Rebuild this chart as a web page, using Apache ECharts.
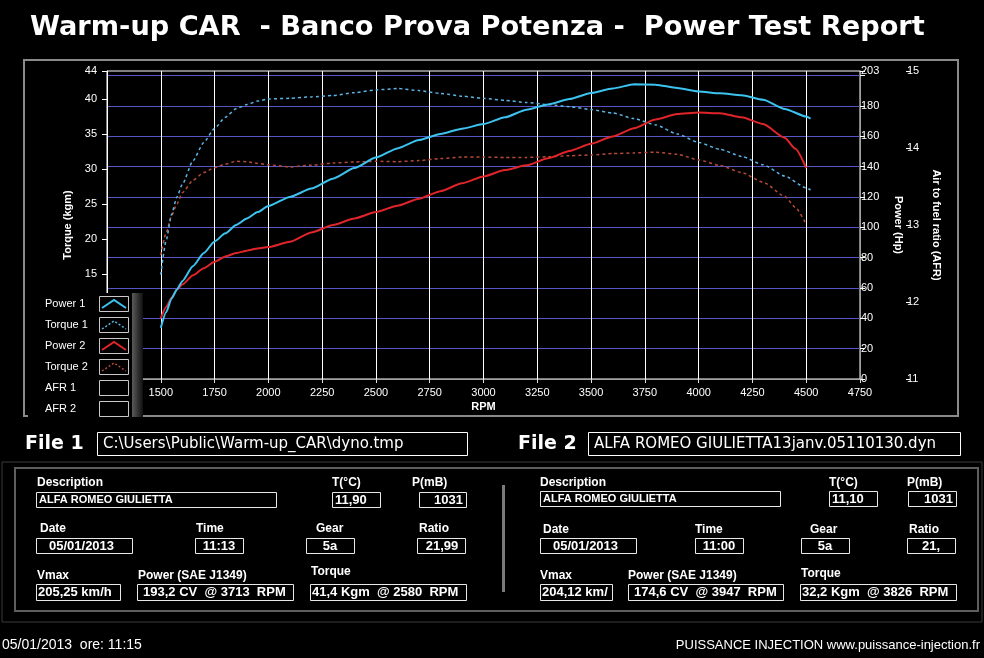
<!DOCTYPE html>
<html><head><meta charset="utf-8">
<script src="https://cdn.jsdelivr.net/npm/echarts@6/dist/echarts.min.js"></script>
<style>html,body{margin:0;padding:0;background:#000;}#c{width:984px;height:658px;}</style>
</head><body><div id="c"></div>
<script>
// ---- Data ----
const rpm1 = [1500,1525,1550,1575,1600,1650,1700,1750,1800,1850,1900,1950,2000,2100,2200,2300,2400,2500,2600,2700,2800,2900,3000,3100,3200,3300,3400,3500,3600,3700,3800,3900,4000,4100,4200,4300,4400,4500,4520];
const power1 = [33.7,44,53,59,64.5,74.5,83,90.7,96,101.5,105.8,110,114,120,125.5,132,139,146,152,157.5,161.5,165,168,172.5,177.5,181,184.5,188.5,191.5,194.2,194,191.8,189.5,188.3,187,184,178,173,171.6];
const torque1 = [14.9,19.8,23.5,26,27.8,31.2,33.8,35.8,37.4,38.6,39.2,39.7,40.0,40.1,40.3,40.5,40.9,41.3,41.5,41.2,40.8,40.4,40.1,39.8,39.5,39.2,38.9,38.5,38.0,37.2,36.3,35.0,33.8,32.8,31.8,30.6,29.0,27.3,27.0];
const rpm2 = [1500,1525,1550,1575,1600,1650,1700,1750,1800,1850,1900,1950,2000,2100,2200,2300,2400,2500,2600,2700,2800,2900,3000,3100,3200,3300,3400,3500,3600,3700,3800,3900,4000,4100,4200,4300,4400,4450,4500];
const power2 = [40,47.5,53.5,59,62.3,68.4,73,77.3,80.8,83,84.6,86,87,90.4,96.6,101.5,105.8,110,114.2,118.8,123.8,129,133.5,137.7,140.8,145.5,150.3,155,159.8,165.3,171,174.6,175.6,175.2,172.5,168,159,151.7,139];
const torque2 = [17.7,20.9,23.3,25.0,26.6,28.4,29.5,30.2,30.7,31.1,31.05,30.8,30.6,30.3,30.55,30.85,31.0,31.1,31.05,31.2,31.5,31.7,31.7,31.65,31.65,31.75,31.9,32.0,32.2,32.3,32.4,32.1,31.3,30.5,29.5,28.1,26.1,24.5,22.1];

const legendNames = ['Power 1','Torque 1','Power 2','Torque 2','AFR 1','AFR 2'];
const seriesColors = ['#3cc3ef','#5ab4e4','#e0252a','#b44a35'];

const titleText = 'Warm-up CAR  - Banco Prova Potenza -  Power Test Report';
const file1Name = 'C:\\Users\\Public\\Warm-up_CAR\\dyno.tmp';
const file2Name = 'ALFA ROMEO GIULIETTA13janv.05110130.dyn';
const fieldLabels = ['Description','T(°C)','P(mB)','Date','Time','Gear','Ratio','Vmax','Power (SAE J1349)','Torque'];
const file1Values = ['ALFA ROMEO GIULIETTA','11,90','1031','05/01/2013','11:13','5a','21,99','205,25 km/h','193,2 CV  @ 3713  RPM','41,4 Kgm  @ 2580  RPM'];
const file2Values = ['ALFA ROMEO GIULIETTA','11,10','1031','05/01/2013','11:00','5a','21,','204,12 km/','174,6 CV  @ 3947  RPM','32,2 Kgm  @ 3826  RPM'];
const footerLeft = '05/01/2013  ore: 11:15';
const footerRight = 'PUISSANCE INJECTION www.puissance-injection.fr';

// ---- Layout helpers (positions only) ----
const g = [];
function rect(x,y,w,h,stroke,fill,lw){ g.push({type:'rect', z:100, shape:{x:x,y:y,width:w,height:h}, style:{stroke:stroke||null, fill:fill||null, lineWidth:lw||1}}); }
function txt(x,y,s,font,align,color){ g.push({type:'text', z:101, style:{text:s, x:x, y:y, font:font, fill:color||'#fff', textAlign:align||'left', textVerticalAlign:'middle', align:align||'left', verticalAlign:'middle'}}); }

// Frames
rect(24,60,934,356,'#8a8a8a',null,2);
// Title
txt(30,28,titleText,'bold 27.2px "DejaVu Sans"','left');

// Legend panel
rect(28,293,104,124,null,'#000');
g.push({type:'rect', z:100, shape:{x:132,y:293,width:11,height:124}, style:{fill:{type:'linear',x:0,y:0,x2:1,y2:0,colorStops:[{offset:0,color:'#5a5a5a'},{offset:1,color:'#101010'}]}}});
legendNames.forEach((n,i)=>{
  const cy = 304 + i*21;
  txt(45,cy,n,'11px "Liberation Sans"','left');
  rect(99.5,cy-7.5,29,15,'#c8c8c8','#000',1);
  if (i < 4) {
    g.push({type:'polyline', z:102, shape:{points:[[102,cy+4],[114,cy-4],[126,cy+4]]},
      style:{stroke:seriesColors[i], lineWidth:(i%2===0)?2:1.5, lineDash:(i%2===0)?null:[2,2], fill:null}});
  }
});

// File headers
txt(25,444,'File 1','bold 19px "DejaVu Sans"','left');
rect(97.5,432.5,370,23,'#fff','#000',1);
txt(103,444,file1Name,'15px "DejaVu Sans"','left');
txt(518,444,'File 2','bold 19px "DejaVu Sans"','left');
rect(588.5,432.5,372,23,'#fff','#000',1);
txt(594,444,file2Name,'15px "DejaVu Sans"','left');

// Info panel frame
rect(15,468,963,143,'#5e5e5e',null,2);
rect(2,462,980,160,'#3a3a3a',null,1);
rect(502,485,3,107,null,'#7a7a7a');

function panel(L, V, vals){
  fieldLabels.forEach((lab,i)=>{ txt(L[i][0],L[i][1],lab,'bold 12px "Liberation Sans"','left'); });
  vals.forEach((v,i)=>{
    const b = V[i];
    rect(b[0]+0.5,b[1]+0.5,b[2],b[3],'#e8e8e8','#000',1);
    const f = i===0 ? 'bold 11px "Liberation Sans"' : 'bold 13px "Liberation Sans"';
    txt(b[4], b[1]+b[3]/2+0.5, v, f, b[5]);
  });
}
panel(
  [[37,483],[332,483],[412,483],[40,529],[196,529],[316,529],[419,529],[37,576],[138,576],[311,572]],
  [[36,492,240,15,39,'left'],[332,492,48,15,335,'left'],[419,492,47,15,463,'right'],[36,538,96,15,49,'left'],[195,538,48,15,219,'center'],[306,538,48,15,330,'center'],[417,538,48,15,442,'center'],[36,584,84,16,38,'left'],[137,584,156,16,143,'left'],[310,584,156,16,312,'left']],
  file1Values);
panel(
  [[540,483],[829,483],[907,483],[543,530],[695,530],[810,530],[909,530],[540,576],[628,576],[801,574]],
  [[540,491,240,15,543,'left'],[829,491,48,15,832,'left'],[908,491,48,15,953,'right'],[540,538,96,15,553,'left'],[695,538,48,15,719,'center'],[801,538,48,15,825,'center'],[907,538,48,15,931,'center'],[540,584,72,16,542,'left'],[628,584,155,16,634,'left'],[800,584,156,16,802,'left']],
  file2Values);

// Footer
txt(2,645,footerLeft,'14px "Liberation Sans"','left');
txt(980,645,footerRight,'13px "Liberation Sans"','right');

const lab = {color:'#fff', fontSize:11, fontFamily:'Liberation Sans'};
const nameStyle = {color:'#fff', fontSize:11, fontWeight:'bold', fontFamily:'Liberation Sans'};

const chart = echarts.init(document.getElementById('c'), null, {renderer:'canvas'});
chart.setOption({
  backgroundColor:'#000',
  animation:false,
  grid:{left:107, right:124, top:71, bottom:279, show:true, borderColor:'#ffffff', borderWidth:1, backgroundColor:'#000'},
  xAxis:{type:'value', min:1250, max:4750, interval:250, name:'RPM', nameLocation:'middle', nameGap:22, nameTextStyle:nameStyle,
    axisLine:{lineStyle:{color:'#a0a0a0', width:1}}, axisTick:{show:true, length:4, lineStyle:{color:'#dddddd'}},
    axisLabel:Object.assign({margin:8, formatter:v => v===1250 ? '' : String(v)}, lab),
    splitLine:{show:true, showMinLine:false, showMaxLine:false, lineStyle:{color:'#ffffff', width:1}}},
  yAxis:[
    {type:'value', position:'left', min:0, max:44, interval:5, name:'Torque (kgm)', nameLocation:'middle', nameGap:21, nameTextStyle:nameStyle,
      axisLine:{show:true, lineStyle:{color:'#ffffff'}}, axisTick:{show:true, length:5, lineStyle:{color:'#ffffff'}},
      axisLabel:Object.assign({margin:10}, lab), splitLine:{show:false}},
    {type:'value', position:'right', min:0, max:203, interval:20, name:'Power (Hp)', nameLocation:'middle', nameRotate:-90, nameGap:33, nameTextStyle:nameStyle,
      axisLine:{show:true, lineStyle:{color:'#a0a0a0'}}, axisTick:{show:true, length:5, lineStyle:{color:'#ffffff'}},
      axisLabel:Object.assign({margin:1, formatter:v => v===200 ? '' : String(v)}, lab),
      splitLine:{show:true, showMinLine:false, showMaxLine:false, lineStyle:{color:'#5656c4', width:1}}},
    {type:'value', position:'right', offset:46, min:11, max:15, interval:1, name:'Air to fuel ratio (AFR)', nameLocation:'middle', nameRotate:-90, nameGap:24, nameTextStyle:nameStyle,
      axisLine:{show:false}, axisTick:{show:true, length:4, lineStyle:{color:'#ffffff'}},
      axisLabel:Object.assign({margin:1}, lab), splitLine:{show:false}}
  ],
  series:[
    {type:'line', name:'Torque 2', yAxisIndex:0, data:rpm2.map((r,i)=>[r,torque2[i]]), showSymbol:false, smooth:0.2, smoothMonotone:'x', lineStyle:{color:seriesColors[3], width:1.5, type:[3,3]}, z:3},
    {type:'line', name:'Torque 1', yAxisIndex:0, data:rpm1.map((r,i)=>[r,torque1[i]]), showSymbol:false, smooth:0.2, smoothMonotone:'x', lineStyle:{color:seriesColors[1], width:1.5, type:[3,3]}, z:3},
    {type:'line', name:'Power 2', yAxisIndex:1, data:rpm2.map((r,i)=>[r,power2[i]]), showSymbol:false, smooth:0.2, smoothMonotone:'x', lineStyle:{color:seriesColors[2], width:2}, z:4},
    {type:'line', name:'Power 1', yAxisIndex:1, data:rpm1.map((r,i)=>[r,power1[i]]), showSymbol:false, smooth:0.2, smoothMonotone:'x', lineStyle:{color:seriesColors[0], width:2}, z:4}
  ],
  graphic:{elements:g}
});
</script></body></html>
